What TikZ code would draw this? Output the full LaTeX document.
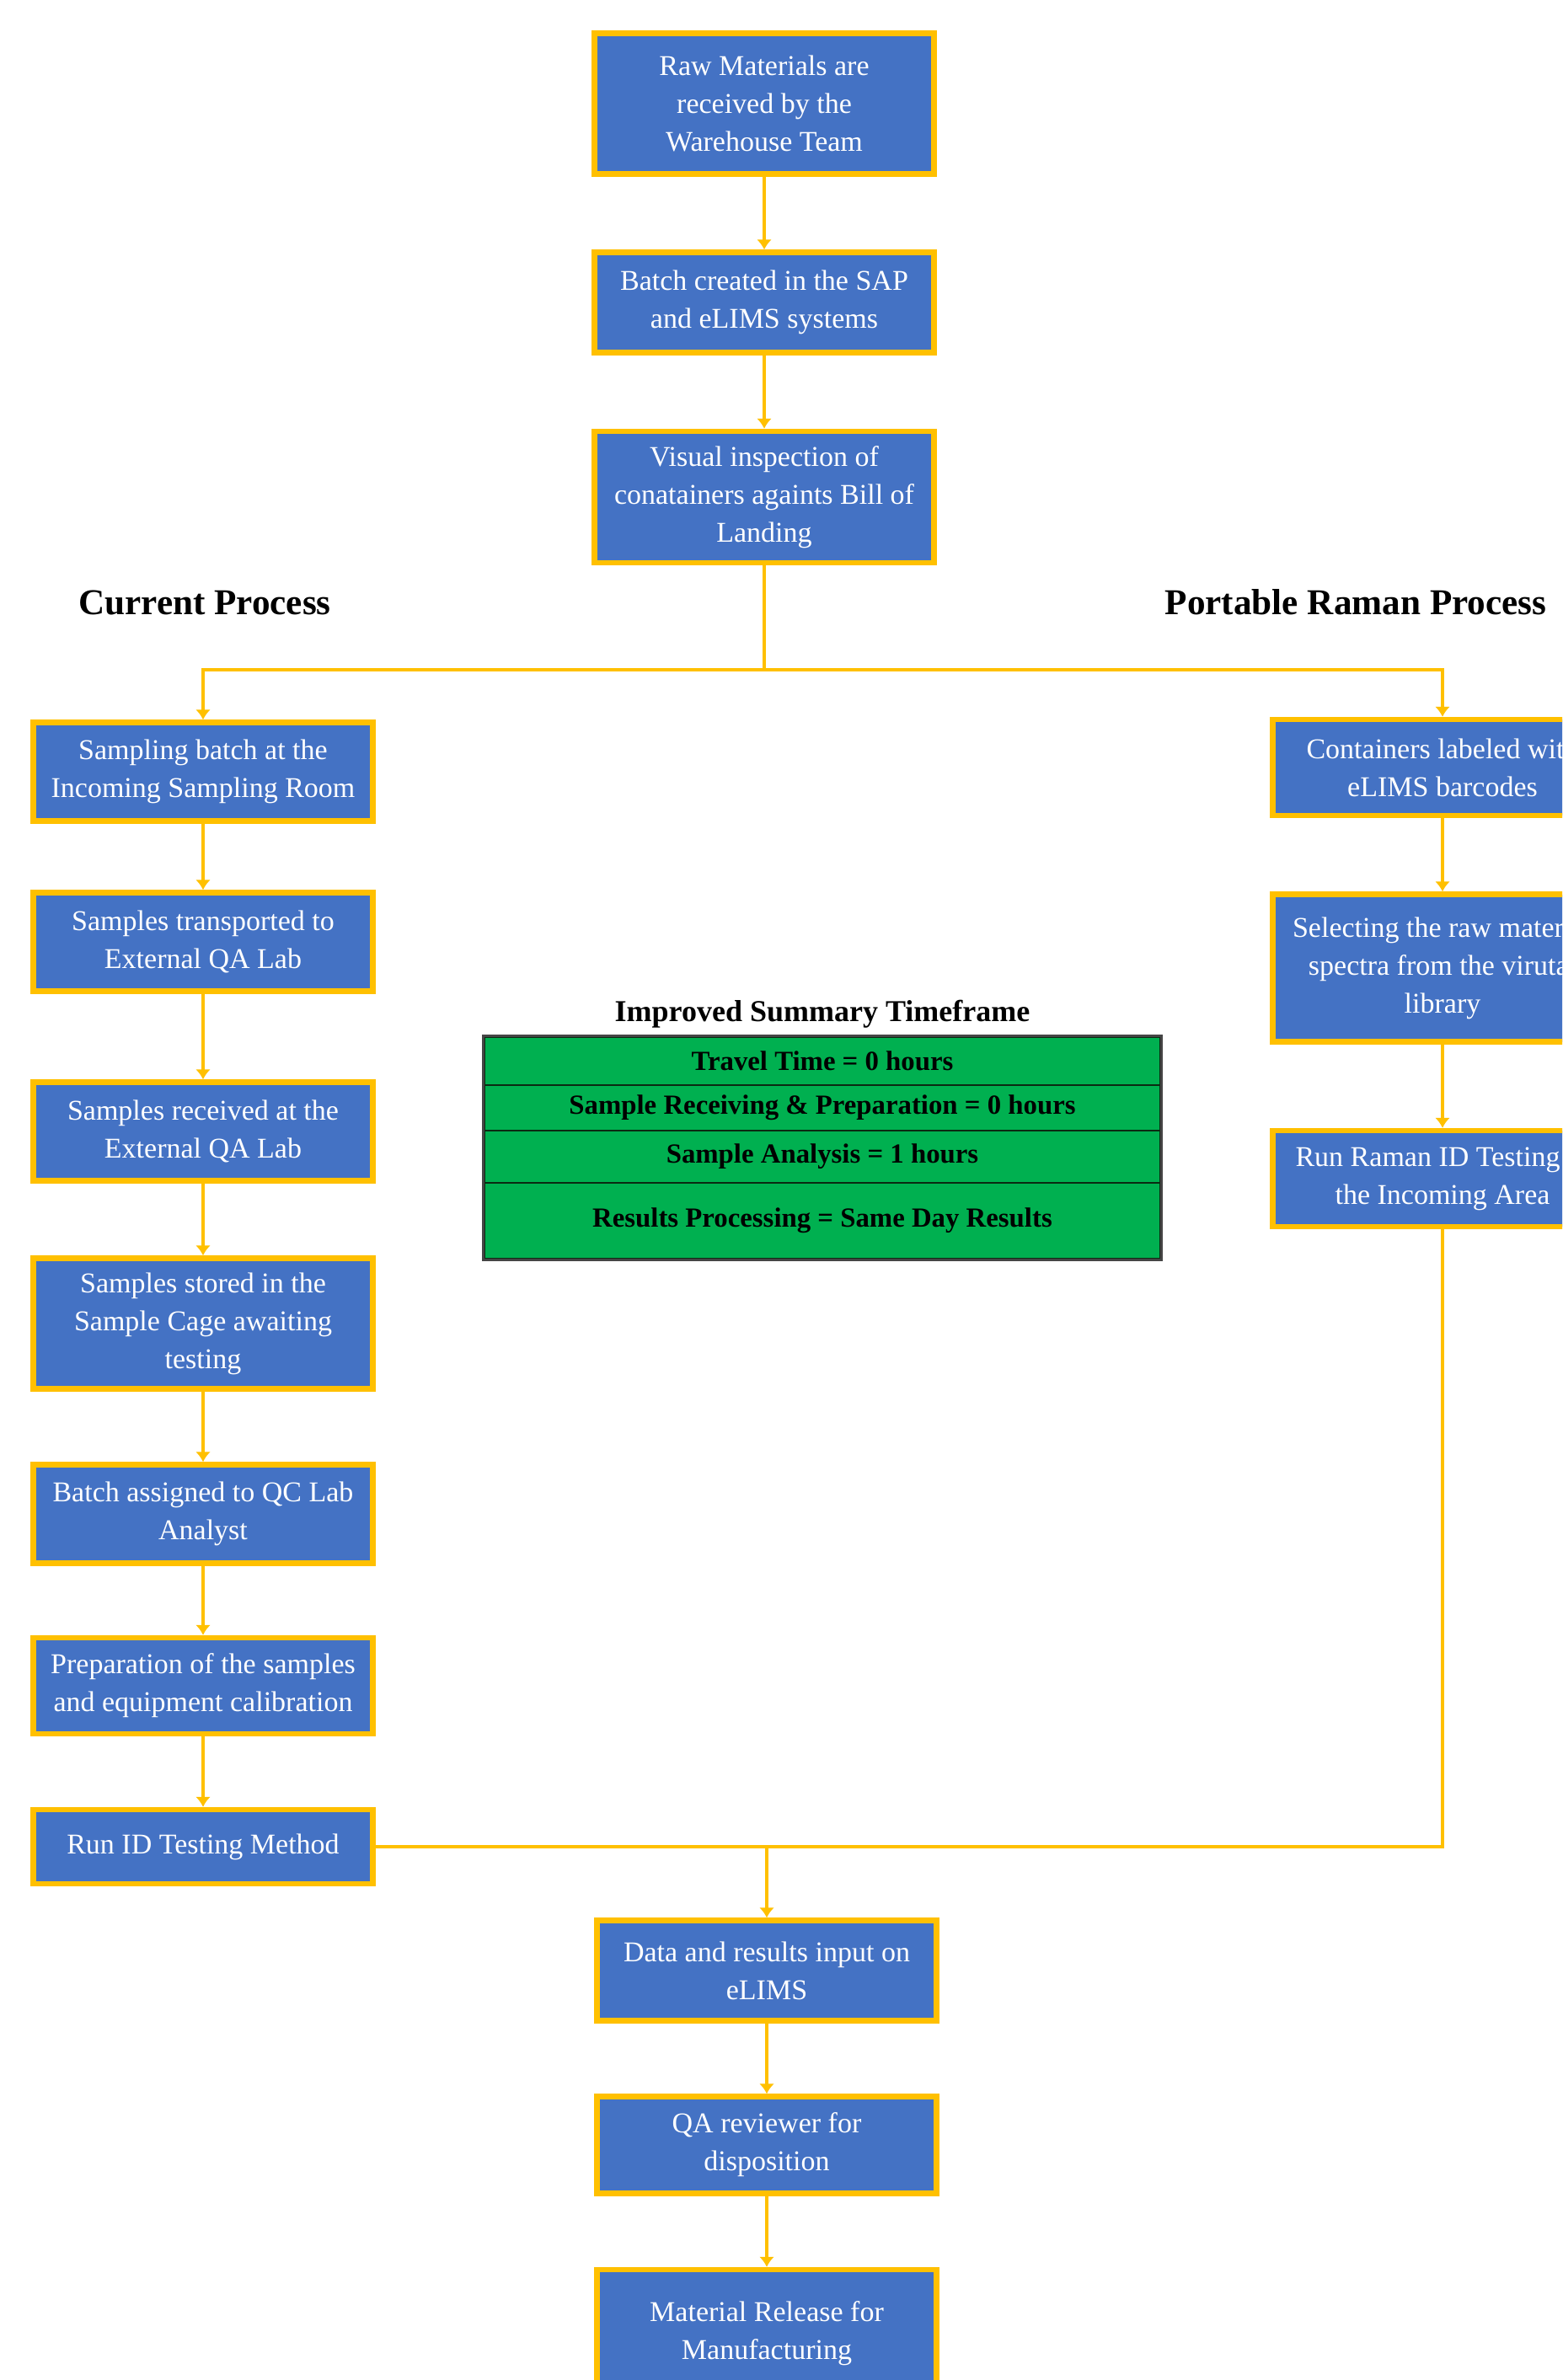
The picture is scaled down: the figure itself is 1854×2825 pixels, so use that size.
\documentclass[tikz,border=0pt]{standalone}
\usepackage{fontspec}
\setmainfont{Liberation Serif}
\usetikzlibrary{arrows.meta}
\definecolor{boxblue}{HTML}{4472C4}
\definecolor{boxgold}{HTML}{FFC000}
\definecolor{tablegreen}{HTML}{00B050}
\definecolor{tableline}{HTML}{0B2A12}
\definecolor{tableframe}{HTML}{454545}

\begin{document}
\begin{tikzpicture}[x=0.25pt,y=-0.25pt,
  procbox/.style={draw=boxgold,fill=boxblue,line width=1.6pt,text=white,align=center,
    minimum width=100.75pt,inner sep=1pt,font=\fontsize{8.5}{11.25}\selectfont},
  flow/.style={draw=boxgold,line width=1pt,-{Latex[length=3pt,width=4.5pt]}},
  link/.style={draw=boxgold,line width=1pt},
  heading/.style={font=\fontsize{10.8}{13}\selectfont\bfseries},
  rowbox/.style={draw=tableline,line width=0.6pt,fill=tablegreen,minimum width=200.75pt,
    inner sep=0pt,font=\fontsize{8.2}{10}\selectfont\bfseries}]
\useasboundingbox (0,0) rectangle (1854,2825);
\clip (0,0) rectangle (1854,2825);

%top boxes
\node[procbox,minimum height=41.75pt] (raw) at (907,123) {Raw Materials are\\received by the\\Warehouse Team};
\node[procbox,minimum height=29.75pt] (batch) at (907,359) {Batch created in the SAP\\and eLIMS systems};
\node[procbox,minimum height=39pt] (visual) at (907,590) {Visual inspection of\\conatainers againts Bill of\\Landing};

%headings
\node[heading] (current) at (243,715) {Current Process};
\node[heading] (raman) at (1609,715) {Portable Raman Process};

%current process
\node[procbox,minimum height=29.25pt] (l1) at (241,916) {Sampling batch at the\\Incoming Sampling Room};
\node[procbox,minimum height=29.25pt] (l2) at (241,1118) {Samples transported to\\External QA Lab};
\node[procbox,minimum height=29.25pt] (l3) at (241,1343) {Samples received at the\\External QA Lab};
\node[procbox,minimum height=38.75pt] (l4) at (241,1571) {Samples stored in the\\Sample Cage awaiting\\testing};
\node[procbox,minimum height=29.25pt] (l5) at (241,1797) {Batch assigned to QC Lab\\Analyst};
\node[procbox,minimum height=28.5pt] (l6) at (241,2001) {Preparation of the samples\\and equipment calibration};
\node[procbox,minimum height=22pt] (l7) at (241,2192) {Run ID Testing Method};

%raman process
\node[procbox,minimum height=28.5pt] (r1) at (1712,911) {Containers labeled with\\eLIMS barcodes};
\node[procbox,minimum height=43.75pt] (r2) at (1712,1149) {Selecting the raw material\\spectra from the virutal\\library};
\node[procbox,minimum height=28.5pt] (r3) at (1712,1399) {Run Raman ID Testing in\\the Incoming Area};

%bottom boxes
\node[procbox,minimum height=29.75pt] (data) at (910,2339) {Data and results input on\\eLIMS};
\node[procbox,minimum height=28.75pt] (review) at (910,2546) {QA reviewer for\\disposition};
\node[procbox,minimum height=38pt] (release) at (910,2770) {Material Release for\\Manufacturing};

%summary table
\node[font=\fontsize{9}{11}\selectfont\bfseries] (title) at (976,1204) {Improved Summary Timeframe};
\node[rowbox,minimum height=14.25pt] (row1) at (976,1259.5) {Travel Time = 0 hours};
\node[rowbox,minimum height=13.5pt] (row2) at (976,1315) {Sample Receiving \& Preparation = 0 hours};
\node[rowbox,minimum height=15.5pt] (row3) at (976,1373) {Sample Analysis = 1 hours};
\node[rowbox,minimum height=22.5pt] (row4) at (976,1449) {Results Processing = Same Day Results};
\draw[tableframe,line width=0.8pt] (row1.north west) rectangle (row4.south east);

%connectors
\coordinate (split) at (907,795);
\coordinate (merge) at (910,2193);
\draw[flow] (raw) -- (batch);
\draw[flow] (batch) -- (visual);
\draw[link] (visual) -- (split);
\draw[flow] (split) -| (l1);
\draw[flow] (split) -| (r1);
\draw[flow] (l1) -- (l2);
\draw[flow] (l2) -- (l3);
\draw[flow] (l3) -- (l4);
\draw[flow] (l4) -- (l5);
\draw[flow] (l5) -- (l6);
\draw[flow] (l6) -- (l7);
\draw[flow] (r1) -- (r2);
\draw[flow] (r2) -- (r3);
\draw[link] (r3) |- (l7);
\draw[flow] (merge) -- (data);
\draw[flow] (data) -- (review);
\draw[flow] (review) -- (release);
\end{tikzpicture}
\end{document}
